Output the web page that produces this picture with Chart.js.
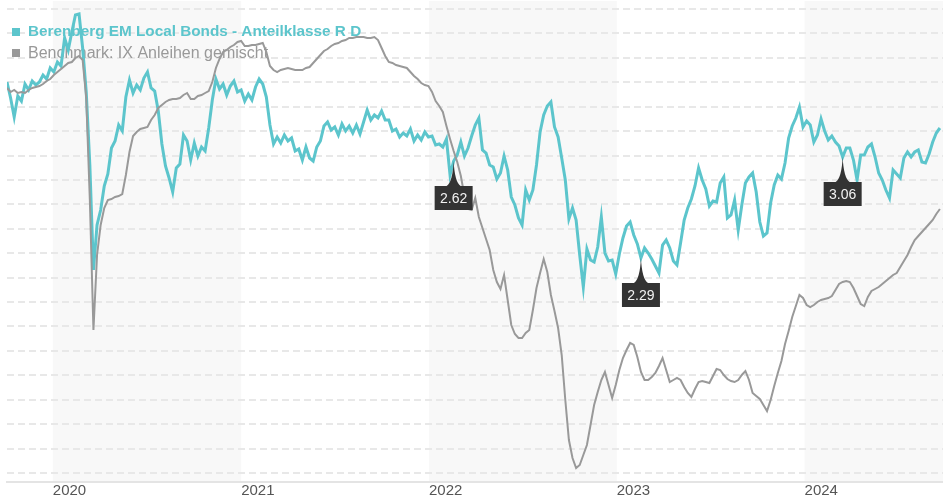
<!DOCTYPE html>
<html lang="de">
<head>
<meta charset="utf-8">
<title>Berenberg EM Local Bonds</title>
<script src="https://cdn.jsdelivr.net/npm/chart.js@4.4.1/dist/chart.umd.min.js"></script>
<style>
  html, body { margin: 0; padding: 0; background: #fff; }
  #wrap { width: 943px; height: 500px; position: relative; }
</style>
</head>
<body>
<div id="wrap"><canvas id="perfChart"></canvas></div>
<script>
// weekly values from start date, performance in %
const startDate = '2019-10-04';
const stepDays = 7;
const axisStart = '2019-10-04';
const axisEnd = '2024-09-26';
const yearLabels = ['2020', '2021', '2022', '2023', '2024'];
const fundName = 'Berenberg EM Local Bonds - Anteilklasse R D';
const benchName = 'Benchmark: IX Anleihen gemischt';

const fundValues = [
  0.0, -1.6, -3.5, -1.4, -1.9, -0.2, -0.8, 0.1, -0.3, 0.0,
  0.7, 0.3, 1.4, 1.0, 2.0, 1.6, 4.4, 3.2, 5.0, 6.7,
  6.8, 3.4, -1.0, -8.3, -18.8, -14.3, -12.8, -10.4, -9.2, -6.6,
  -5.9, -4.3, -4.9, -1.5, 0.2, -1.1, -0.3, -0.8, 0.4, 1.0,
  -0.6, -0.9, -2.9, -6.2, -8.4, -9.6, -11.0, -8.6, -8.2, -5.3,
  -5.9, -7.8, -6.1, -7.4, -6.5, -6.9, -4.6, -1.8, 0.3, -0.7,
  -0.2, -1.3, -0.4, 0.1, -1.0, -0.8, -1.9, -1.2, -1.8, -0.5,
  0.3, -0.2, -1.5, -4.3, -6.2, -5.5, -6.1, -5.3, -5.9, -5.6,
  -6.9, -6.7, -7.8, -6.5, -7.6, -7.9, -6.5, -5.9, -4.4, -4.0,
  -4.8, -4.5, -5.3, -4.2, -4.9, -4.4, -5.1, -4.3, -5.2, -4.0,
  -2.8, -3.8, -3.3, -3.6, -2.9, -3.8, -3.8, -4.9, -4.7, -5.5,
  -5.1, -5.4, -4.7, -5.9, -5.3, -5.8, -5.0, -5.5, -5.4, -6.3,
  -6.2, -6.5, -5.7, -9.3, -7.9, -7.3, -6.0, -7.4, -6.6, -5.4,
  -4.3, -3.6, -6.8, -7.1, -8.3, -8.5, -9.7, -9.1, -7.4, -8.8,
  -11.5, -12.3, -13.6, -14.3, -10.8, -11.8, -10.8, -8.3, -5.0, -3.3,
  -2.4, -2.0, -4.5, -5.5, -7.6, -9.8, -13.7, -12.6, -13.8, -17.3,
  -20.5, -16.7, -17.8, -18.0, -16.5, -13.5, -17.1, -17.9, -17.8, -19.2,
  -17.2, -15.6, -14.4, -14.0, -15.3, -16.2, -17.6, -16.6, -17.1, -17.7,
  -18.4, -19.1, -16.3, -15.8, -16.6, -17.9, -18.3, -16.1, -13.8, -12.6,
  -11.7, -10.4, -8.6, -9.8, -10.7, -12.4, -11.9, -12.0, -10.1, -9.5,
  -13.6, -13.3, -11.8, -14.8, -12.3, -10.1, -9.5, -9.1, -11.0, -14.0,
  -15.4, -15.1, -12.1, -10.3, -9.3, -9.7, -8.1, -5.6, -4.4, -3.6,
  -2.5, -4.5, -3.9, -4.3, -6.0, -5.3, -3.7, -4.9, -5.8, -5.4,
  -6.0, -6.4, -7.5, -6.6, -6.6, -7.8, -9.8, -7.3, -7.3, -6.5,
  -6.2, -7.5, -9.1, -9.8, -10.8, -11.6, -8.8, -9.2, -9.6, -7.6,
  -7.0, -7.5, -7.0, -6.8, -8.0, -8.1, -7.2, -6.0, -5.1, -4.6
];

const benchValues = [
  -0.6, -1.0, -0.8, -1.1, -1.0, -1.1, -0.8, -0.6, -0.5, -0.4,
  -0.2, 0.1, 0.3, 0.7, 1.0, 1.3, 1.6, 1.9, 2.0, 2.4,
  2.6, 2.2, -1.6, -11.8, -24.8, -17.3, -14.3, -12.6, -11.8, -11.7,
  -11.5, -11.4, -11.2, -9.3, -7.0, -5.4, -5.0, -4.7, -4.6, -4.5,
  -3.8, -3.3, -2.6, -2.3, -2.0, -1.8, -1.7, -1.7, -1.6, -1.3,
  -1.1, -1.7, -1.7, -1.4, -1.3, -1.1, -0.9, 0.0, 1.4, 2.3,
  3.0, 3.2, 3.5, 3.7, 4.0, 4.1, 3.6, 3.6, 3.7, 3.7,
  3.8, 3.9, 3.0, 1.6, 1.2, 1.0, 1.2, 1.3, 1.4, 1.3,
  1.2, 1.2, 1.2, 1.4, 1.5, 1.9, 2.3, 2.7, 3.1, 3.3,
  3.6, 3.8, 3.9, 4.1, 4.2, 4.4, 4.4, 4.5, 4.5, 4.5,
  4.4, 4.4, 4.5, 4.2, 3.4, 2.6, 2.0, 1.9, 1.7, 1.6,
  1.5, 1.4, 1.0, 0.6, 0.3, -0.1, -0.3, -0.4, -1.0, -1.9,
  -2.4, -3.0, -4.4, -5.7, -6.9, -8.0, -9.4, -11.4, -12.7, -12.8,
  -11.6, -13.5, -14.6, -15.7, -16.8, -18.8, -20.0, -20.7, -19.3, -21.8,
  -24.3, -25.2, -25.6, -25.6, -25.1, -24.8, -22.8, -20.6, -19.1, -17.7,
  -19.0, -21.3, -22.9, -24.6, -27.3, -31.8, -35.8, -37.6, -38.6, -38.3,
  -37.3, -36.3, -34.3, -32.3, -31.0, -29.8, -29.0, -30.3, -31.6, -30.3,
  -28.8, -27.6, -26.8, -26.1, -26.3, -27.5, -29.0, -29.8, -29.8, -29.5,
  -29.1, -28.4, -27.6, -28.8, -30.0, -29.8, -29.6, -29.8, -30.5, -31.1,
  -31.5, -30.7, -30.0, -29.9, -30.0, -30.1, -29.4, -28.7, -28.8, -29.3,
  -29.7, -29.9, -30.0, -29.8, -29.3, -28.9, -29.8, -31.1, -31.4, -31.7,
  -32.3, -32.9, -31.8, -30.4, -29.1, -27.9, -26.2, -24.9, -23.5, -22.4,
  -21.3, -21.6, -22.3, -22.5, -22.3, -22.0, -21.8, -21.7, -21.6, -21.4,
  -20.8, -20.2, -20.0, -19.9, -20.0, -20.6, -21.4, -22.2, -22.4, -21.5,
  -20.9, -20.7, -20.5, -20.2, -19.9, -19.6, -19.3, -19.1, -18.5, -17.9,
  -17.3, -16.5, -15.8, -15.4, -15.0, -14.6, -14.2, -13.8, -13.2, -12.7
];

// Ausschüttungen (flags on the fund line)
const flagDates = ['2022-02-18', '2023-02-17', '2024-03-15'];
const flagLabels = ['2.62', '2.29', '3.06'];

const teal = '#5cc5cc';
const grey = '#999999';
const fontFam = '"Liberation Sans", Arial, sans-serif';

function dayOf(str) {
    const [y, m, d] = str.split('-').map(Number);
    return (Date.UTC(y, m - 1, d) - Date.UTC(2020, 0, 1)) / 86400000;
}

const firstDay = dayOf(startDate);
const toPoints = vals => vals.map((v, i) => ({ x: firstDay + i * stepDays, y: v }));
const yearTicks = yearLabels.map(y => dayOf(y + '-01-01'));

// shaded year bands (every second year)
const bandPlugin = {
    id: 'bands',
    beforeDraw(chart) {
        const { ctx, chartArea: a, scales: { x } } = chart;
        ctx.save();
        ctx.fillStyle = '#f8f8f8';
        yearLabels.forEach((y, i) => {
            if (i % 2) return;
            const from = Math.max(x.getPixelForValue(yearTicks[i]), a.left);
            const toDay = i + 1 < yearTicks.length ? yearTicks[i + 1] : x.max;
            const to = Math.min(x.getPixelForValue(toDay), a.right);
            ctx.fillRect(from, a.top, to - from, a.bottom - a.top);
        });
        ctx.restore();
    }
};

// legend drawn inside the plot, lines go over it
const legendPlugin = {
    id: 'innerLegend',
    beforeDatasetsDraw(chart) {
        const ctx = chart.ctx;
        ctx.save();
        ctx.textBaseline = 'alphabetic';
        ctx.fillStyle = teal;
        ctx.fillRect(12, 28, 8, 8);
        ctx.font = 'bold 15.3px ' + fontFam;
        ctx.fillText(fundName, 28, 35.5);
        ctx.fillStyle = grey;
        ctx.fillRect(12, 49, 8, 8);
        ctx.font = '16px ' + fontFam;
        ctx.fillText(benchName, 28, 57.5);
        ctx.restore();
    }
};

const flagPlugin = {
    id: 'flags',
    afterDatasetsDraw(chart) {
        const ctx = chart.ctx;
        const meta = chart.getDatasetMeta(0);
        const pts = chart.data.datasets[0].data;
        ctx.save();
        flagDates.forEach((d, k) => {
            const day = dayOf(d);
            let best = 0;
            pts.forEach((p, i) => { if (Math.abs(p.x - day) < Math.abs(pts[best].x - day)) best = i; });
            const el = meta.data[best];
            const px = el.x, py = el.y;
            const top = py + 25, w = 38, h = 24;
            ctx.fillStyle = '#333333';
            ctx.beginPath();
            ctx.moveTo(px, py);
            ctx.quadraticCurveTo(px + 1, top - 4, px + 7, top);
            ctx.lineTo(px - 7, top);
            ctx.quadraticCurveTo(px - 1, top - 4, px, py);
            ctx.fill();
            ctx.fillRect(px - w / 2, top, w, h);
            ctx.fillStyle = '#f2f2f2';
            ctx.font = '14px ' + fontFam;
            ctx.textAlign = 'center';
            ctx.textBaseline = 'middle';
            ctx.fillText(flagLabels[k], px, top + h / 2 + 1);
        });
        ctx.restore();
    }
};

const gridTop = 7.3, gridStep = 2.442, gridCount = 20;

new Chart(document.getElementById('perfChart'), {
    type: 'line',
    data: {
        datasets: [
            { label: fundName, data: toPoints(fundValues), borderColor: teal, borderWidth: 3, pointRadius: 0, order: 1 },
            { label: benchName, data: toPoints(benchValues), borderColor: grey, borderWidth: 2, pointRadius: 0, order: 0 }
        ]
    },
    options: {
        responsive: true,
        maintainAspectRatio: false,
        animation: false,
        layout: { padding: { left: 7, right: 0, top: 1, bottom: 0 } },
        plugins: { legend: { display: false }, tooltip: { enabled: false } },
        scales: {
            x: {
                type: 'linear',
                min: dayOf(axisStart),
                max: dayOf(axisEnd),
                grid: { display: false, drawTicks: false },
                border: { color: '#e4e4e4', width: 2 },
                afterBuildTicks: s => { s.ticks = yearTicks.map(v => ({ value: v })); },
                ticks: {
                    align: 'start',
                    padding: 0,
                    color: '#555',
                    font: { family: fontFam, size: 15 },
                    callback: v => yearLabels[yearTicks.indexOf(v)]
                }
            },
            y: {
                min: -40.0,
                max: 8.1,
                afterBuildTicks: s => {
                    s.ticks = Array.from({ length: gridCount }, (_, k) => ({ value: gridTop - k * gridStep }));
                },
                ticks: { display: false },
                grid: { color: '#e8e8e8', lineWidth: 2, drawTicks: false },
                border: { display: false, dash: [7, 4] }
            }
        }
    },
    plugins: [bandPlugin, legendPlugin, flagPlugin]
});
</script>
</body>
</html>
